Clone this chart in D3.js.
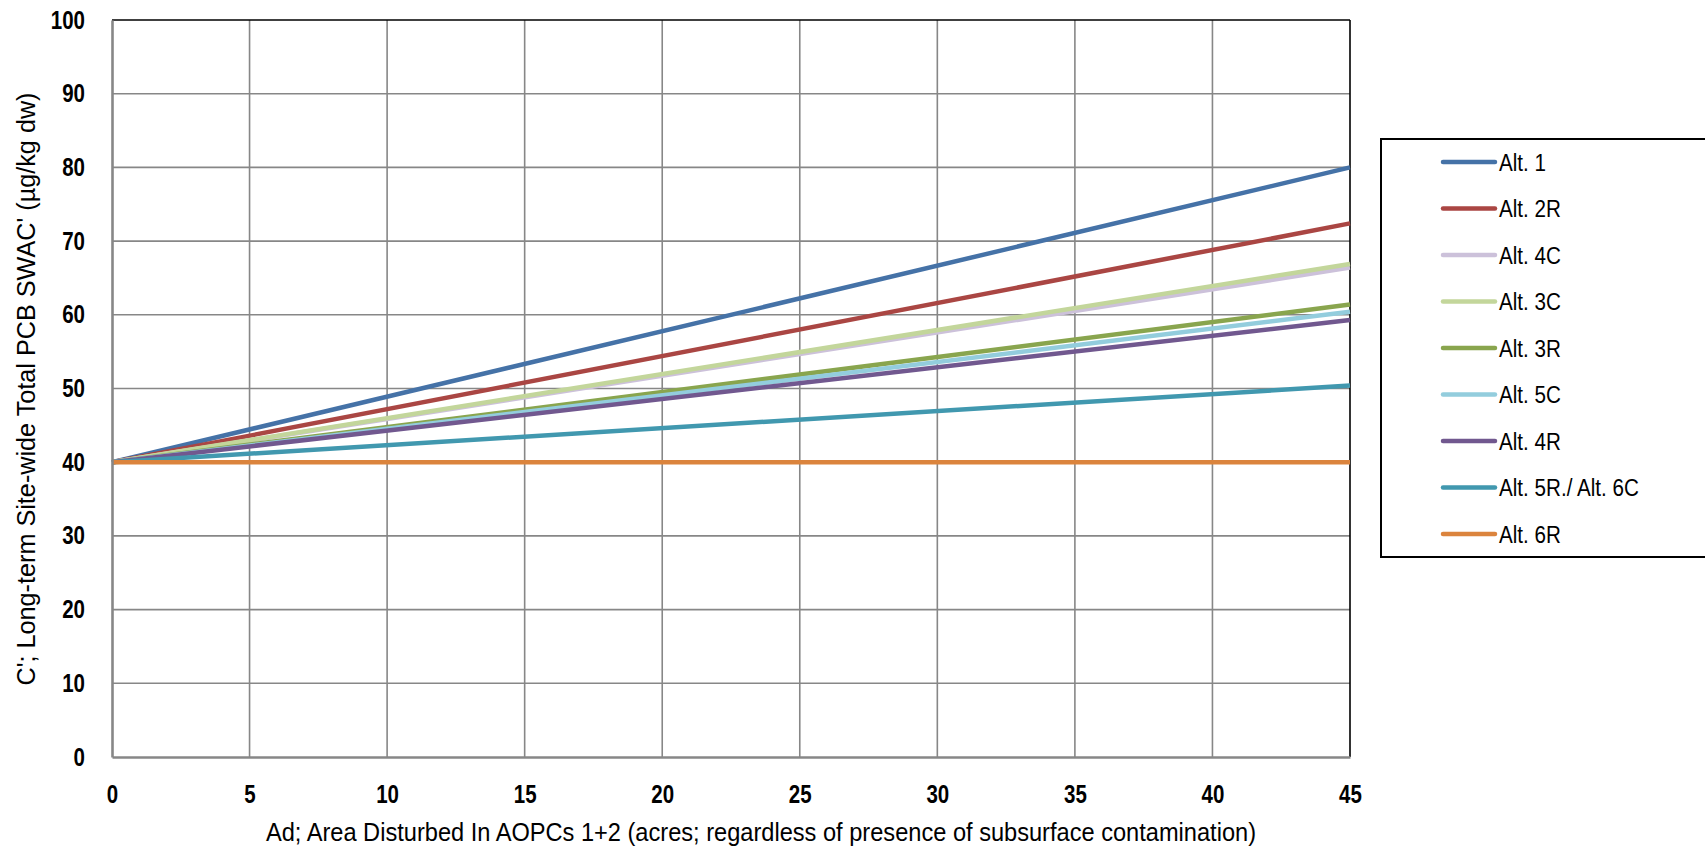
<!DOCTYPE html>
<html>
<head>
<meta charset="utf-8">
<script src="https://cdn.jsdelivr.net/npm/d3@7"></script>
<style>
  html, body { margin: 0; padding: 0; background: #fff; }
  svg { display: block; }
  text { font-family: "Liberation Sans", Arial, sans-serif; fill: #000; }
</style>
</head>
<body>
<svg id="chart" width="1705" height="851"></svg>
<script>
// Area disturbed (acres) at the two ends of each line
const areaDisturbed = [0, 45];

// Long-term site-wide SWAC' (µg/kg dw) for each alternative
const seriesNames = ["Alt. 1", "Alt. 2R", "Alt. 4C", "Alt. 3C", "Alt. 3R", "Alt. 5C", "Alt. 4R", "Alt. 5R./ Alt. 6C", "Alt. 6R"];
const alt1    = [40, 80.0];
const alt2R   = [40, 72.4];
const alt4C   = [40, 66.4];
const alt3C   = [40, 66.9];
const alt3R   = [40, 61.4];
const alt5C   = [40, 60.4];
const alt4R   = [40, 59.3];
const alt5R6C = [40, 50.4];
const alt6R   = [40, 40.0];
const seriesColors = ["#4572A7", "#AA4643", "#CCC1DA", "#C3D69B", "#89A54E", "#93CDDD", "#71588F", "#4198AF", "#DB843D"];

const xTicks = [0, 5, 10, 15, 20, 25, 30, 35, 40, 45];
const yTicks = [0, 10, 20, 30, 40, 50, 60, 70, 80, 90, 100];

const xTitle = "Ad; Area Disturbed In AOPCs 1+2 (acres; regardless of presence of subsurface contamination)";
const yTitle = "C'; Long-term Site-wide Total PCB SWAC' (µg/kg dw)";

const seriesValues = [alt1, alt2R, alt4C, alt3C, alt3R, alt5C, alt4R, alt5R6C, alt6R];
const series = seriesNames.map((name, i) => ({
  name,
  color: seriesColors[i],
  points: areaDisturbed.map((a, j) => ({ x: a, y: seriesValues[i][j] }))
}));

const svg = d3.select("#chart");
const plot = { left: 112, right: 1350, top: 20, bottom: 757 };

const x = d3.scaleLinear().domain([0, 45]).range([plot.left, plot.right]);
const y = d3.scaleLinear().domain([0, 100]).range([plot.bottom, plot.top]);

// Squeeze text horizontally to a narrow face, keeping its anchor point
function narrow(sel, s) {
  sel.each(function () {
    const t = d3.select(this);
    const x0 = +(t.attr("x") || 0);
    t.attr("x", x0 / s).attr("transform", `scale(${s},1)`);
  });
}

// Gridlines
const grid = svg.append("g");
grid.selectAll("line.v").data(xTicks.slice(1, -1)).join("line")
  .attr("x1", d => x(d)).attr("x2", d => x(d))
  .attr("y1", plot.top).attr("y2", plot.bottom)
  .attr("stroke", "#878787").attr("stroke-width", 1.6);
grid.selectAll("line.h").data(yTicks.slice(1, -1)).join("line")
  .attr("x1", plot.left).attr("x2", plot.right)
  .attr("y1", d => y(d)).attr("y2", d => y(d))
  .attr("stroke", "#878787").attr("stroke-width", 1.6);

// Plot frame: dark top and right edges
svg.append("line").attr("x1", plot.left).attr("x2", plot.right)
  .attr("y1", plot.top).attr("y2", plot.top).attr("stroke", "#000").attr("stroke-width", 1.6);
svg.append("line").attr("x1", plot.right).attr("x2", plot.right)
  .attr("y1", plot.top).attr("y2", plot.bottom).attr("stroke", "#000").attr("stroke-width", 1.6);

// Series lines
const line = d3.line().x(d => x(d.x)).y(d => y(d.y));
svg.append("g").selectAll("path").data(series).join("path")
  .attr("d", d => line(d.points))
  .attr("fill", "none")
  .attr("stroke", d => d.color)
  .attr("stroke-width", 4.5)
  .attr("stroke-linecap", "butt");

// Axes
const xAxis = svg.append("g").attr("transform", `translate(0,${plot.bottom})`)
  .call(d3.axisBottom(x).tickValues(xTicks).tickSize(0).tickPadding(28).tickFormat(d3.format("d")));
const yAxis = svg.append("g").attr("transform", `translate(${plot.left},0)`)
  .call(d3.axisLeft(y).tickValues(yTicks).tickSize(0).tickPadding(27).tickFormat(d3.format("d")));
[xAxis, yAxis].forEach(g => {
  g.select(".domain").attr("stroke", "#878787").attr("stroke-width", 2.6);
  g.selectAll("text").attr("font-size", 25).attr("font-weight", "bold")
    .attr("font-family", "'Liberation Sans', Arial, sans-serif");
  narrow(g.selectAll("text"), 0.82);
});

// Axis titles
svg.append("text")
  .attr("x", 761)
  .attr("y", 841)
  .attr("text-anchor", "middle")
  .attr("font-size", 25)
  .attr("textLength", 990)
  .attr("lengthAdjust", "spacingAndGlyphs")
  .text(xTitle);
svg.append("text")
  .attr("transform", `translate(35,389) rotate(-90)`)
  .attr("text-anchor", "middle")
  .attr("font-size", 26)
  .attr("textLength", 593)
  .attr("lengthAdjust", "spacingAndGlyphs")
  .text(yTitle);

// Legend
const legend = svg.append("g");
legend.append("rect")
  .attr("x", 1381).attr("y", 139).attr("width", 330).attr("height", 418)
  .attr("fill", "#fff").attr("stroke", "#000").attr("stroke-width", 2);
const rowY = d3.scaleLinear().domain([0, series.length - 1]).range([162, 534]);
const rows = legend.selectAll("g.row").data(series).join("g")
  .attr("transform", (d, i) => `translate(0,${rowY(i)})`);
rows.append("line")
  .attr("x1", 1443).attr("x2", 1495).attr("y1", 0).attr("y2", 0)
  .attr("stroke", d => d.color).attr("stroke-width", 4.5).attr("stroke-linecap", "round");
rows.append("text")
  .attr("x", 1499).attr("y", 0).attr("dy", "0.36em")
  .attr("font-size", 24)
  .text(d => d.name);
narrow(rows.selectAll("text"), 0.86);
</script>
</body>
</html>
